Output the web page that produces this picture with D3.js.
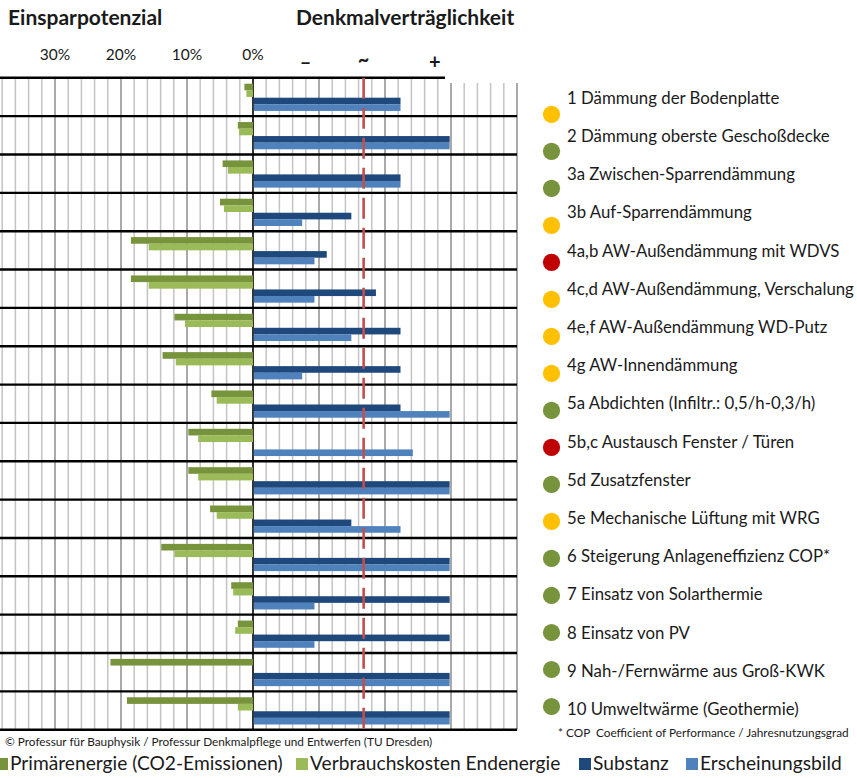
<!DOCTYPE html>
<html>
<head>
<meta charset="utf-8">
<script src="https://cdn.jsdelivr.net/npm/d3@7"></script>
<style>
  html, body { margin: 0; padding: 0; background: #fff; }
  svg { display: block; font-family: Lato, "Open Sans", sans-serif; }
</style>
</head>
<body>
<svg id="chart" width="857" height="778"></svg>
<script>
// Maßnahmen (rows, top to bottom)
const measures = [
  "1 Dämmung der Bodenplatte",
  "2 Dämmung oberste Geschoßdecke",
  "3a Zwischen-Sparrendämmung",
  "3b Auf-Sparrendämmung",
  "4a,b AW-Außendämmung mit WDVS",
  "4c,d AW-Außendämmung, Verschalung",
  "4e,f AW-Außendämmung WD-Putz",
  "4g AW-Innendämmung",
  "5a Abdichten (Infiltr.: 0,5/h-0,3/h)",
  "5b,c Austausch Fenster / Türen",
  "5d Zusatzfenster",
  "5e Mechanische Lüftung mit WRG",
  "6 Steigerung Anlageneffizienz COP*",
  "7 Einsatz von Solarthermie",
  "8 Einsatz von PV",
  "9 Nah-/Fernwärme aus Groß-KWK",
  "10 Umweltwärme (Geothermie)"
];

// Einsparpotenzial in %
const primaerenergie    = [1.3, 2.3, 4.6, 5.0, 18.5, 18.5, 11.9, 13.7, 6.3, 9.8, 9.8, 6.5, 13.9, 3.3, 2.3, 21.6, 19.1];
const verbrauchskosten  = [1.0, 2.1, 3.8, 4.4, 15.8, 15.8, 10.3, 11.7, 5.5, 8.3, 8.3, 5.5, 11.9, 3.0, 2.7, 0, 2.3];

// Denkmalverträglichkeit (rating steps 0..4)
const substanz          = [3, 4, 3, 2, 1.5, 2.5, 3, 3, 3, 0, 4, 2, 4, 4, 4, 4, 4];
const erscheinungsbild  = [3, 4, 3, 1, 1.25, 1.25, 2, 1, 4, 3.25, 4, 3, 4, 1.25, 1.25, 4, 4];

// Gesamtbewertung (Ampel)
const ampel = ["gelb", "grün", "grün", "gelb", "rot", "gelb", "gelb", "gelb", "grün", "rot",
               "grün", "gelb", "grün", "grün", "grün", "grün", "grün"];

// Axis labels
const savingTicks = [30, 20, 10, 0];
const ratingTickLabels = ["–", "~", "+"];
const ratingTickValues = [1.07, 2.25, 3.7];
const neutralRating = 2.25;

const seriesNames = ["Primärenergie (CO2-Emissionen)", "Verbrauchskosten Endenergie", "Substanz", "Erscheinungsbild"];
const seriesColors = ["#77933c", "#9bbb59", "#1f497d", "#4f81bd"];
const ampelColors = { "gelb": "#ffc000", "grün": "#77933c", "rot": "#c00000" };

const svg = d3.select("#chart");
svg.append("rect").attr("width", 857).attr("height", 778).attr("fill", "#fff");

// Shared horizontal grid scale: negative = saving %, positive = rating area
const x = d3.scaleLinear().domain([-38, 40]).range([2.2, 517]);
const rating = d3.scaleLinear().domain([0, 4]).range([x(0), x(29.8)]);
const y = d3.scaleBand().domain(measures).range([77.8, 729.7]).paddingInner(0).paddingOuter(0);
const bw = y.bandwidth();
const barH = bw * 0.173;
const offs = [0.154, 0.326, 0.519, 0.691];

// Vertical grid lines every 2 units
const gridVals = d3.range(-38, 41, 2);
svg.append("g").selectAll("line").data(gridVals).join("line")
  .attr("x1", d => x(d)).attr("x2", d => x(d))
  .attr("y1", d => x(d) > 445 ? 83 : 77.8).attr("y2", 729.7)
  .attr("stroke", d => d === 0 ? "#000" : (d % 10 === 0 ? "#8c8c8c" : "#c4c4c4"))
  .attr("stroke-width", d => d === 0 ? 1.6 : 1.5);

// Row separators
svg.append("g").selectAll("line").data(measures.slice(1).concat(["__end"])).join("line")
  .attr("x1", 0).attr("x2", 517)
  .attr("y1", d => d === "__end" ? 729.7 : y(d))
  .attr("y2", d => d === "__end" ? 729.7 : y(d))
  .attr("stroke", "#000").attr("stroke-width", 2.4);
svg.append("line").attr("x1", 0).attr("x2", 445).attr("y1", 77.8).attr("y2", 77.8)
  .attr("stroke", "#000").attr("stroke-width", 2.4);

// Bars
const leftSeries = [primaerenergie, verbrauchskosten];
leftSeries.forEach((vals, s) => {
  svg.append("g").selectAll("rect").data(measures).join("rect")
    .attr("x", (d, i) => x(-vals[i]))
    .attr("width", (d, i) => x(0) - x(-vals[i]))
    .attr("y", d => y(d) + bw * offs[s])
    .attr("height", barH)
    .attr("fill", seriesColors[s]);
});
const rightSeries = [substanz, erscheinungsbild];
rightSeries.forEach((vals, s) => {
  svg.append("g").selectAll("rect").data(measures).join("rect")
    .attr("x", x(0) + 0.8)
    .attr("width", (d, i) => Math.max(0, rating(vals[i]) - x(0) - 0.8))
    .attr("y", d => y(d) + bw * offs[s + 2])
    .attr("height", barH)
    .attr("fill", seriesColors[s + 2]);
});

// Neutral rating line
svg.append("line")
  .attr("x1", rating(neutralRating)).attr("x2", rating(neutralRating))
  .attr("y1", 77.8).attr("y2", 729.7)
  .attr("stroke", "#c0504d").attr("stroke-width", 2.6)
  .attr("stroke-dasharray", "21,9");

// Headings
svg.append("text").attr("x", 8).attr("y", 25).attr("font-size", 21).attr("font-weight", 700)
  .attr("fill", "#1a1a1a").text("Einsparpotenzial");
svg.append("text").attr("x", 296).attr("y", 25).attr("font-size", 21).attr("font-weight", 700)
  .attr("fill", "#1a1a1a").text("Denkmalverträglichkeit");

// Axis tick labels
svg.append("g").selectAll("text").data(savingTicks).join("text")
  .attr("x", d => x(-d)).attr("y", 60).attr("text-anchor", "middle")
  .attr("font-size", 15.5).attr("fill", "#1a1a1a").text(d => d + "%");
svg.append("g").selectAll("text").data(ratingTickLabels).join("text")
  .attr("x", (d, i) => rating(ratingTickValues[i])).attr("y", (d, i) => i === 1 ? 67 : 69)
  .attr("text-anchor", "middle").attr("font-size", 20).attr("font-weight", 700)
  .attr("fill", "#1a1a1a").text(d => d);

// Measure labels with traffic-light dots
const dotY = d3.scalePoint().domain(measures).range([114.3, 706.5]);
const labelY = d3.scalePoint().domain(measures).range([98, 709]);
svg.append("g").selectAll("circle").data(measures).join("circle")
  .attr("cx", 551.5).attr("cy", d => dotY(d)).attr("r", 8.6)
  .attr("fill", (d, i) => ampelColors[ampel[i]]);
svg.append("g").selectAll("text").data(measures).join("text")
  .attr("x", 567).attr("y", d => labelY(d)).attr("dy", "0.35em")
  .attr("font-size", 16.8).attr("fill", "#1a1a1a").text(d => d);

// Footnotes
svg.append("text").attr("x", 5).attr("y", 746).attr("font-size", 11.8).attr("fill", "#1a1a1a")
  .text("© Professur für Bauphysik / Professur Denkmalpflege und Entwerfen (TU Dresden)");
svg.append("text").attr("x", 558).attr("y", 737).attr("font-size", 11.8).attr("fill", "#1a1a1a")
  .attr("xml:space", "preserve")
  .text("* COP  Coefficient of Performance / Jahresnutzungsgrad");

// Legend
const legendX = [-4, 296, 579, 686];
const lg = svg.append("g").selectAll("g").data(seriesNames).join("g")
  .attr("transform", (d, i) => `translate(${legendX[i]},758)`);
lg.append("rect").attr("width", 12).attr("height", 12).attr("fill", (d, i) => seriesColors[i]);
lg.append("text").attr("x", 14).attr("y", 12).attr("font-size", 19.2).attr("fill", "#1a1a1a").text(d => d);
</script>
</body>
</html>
